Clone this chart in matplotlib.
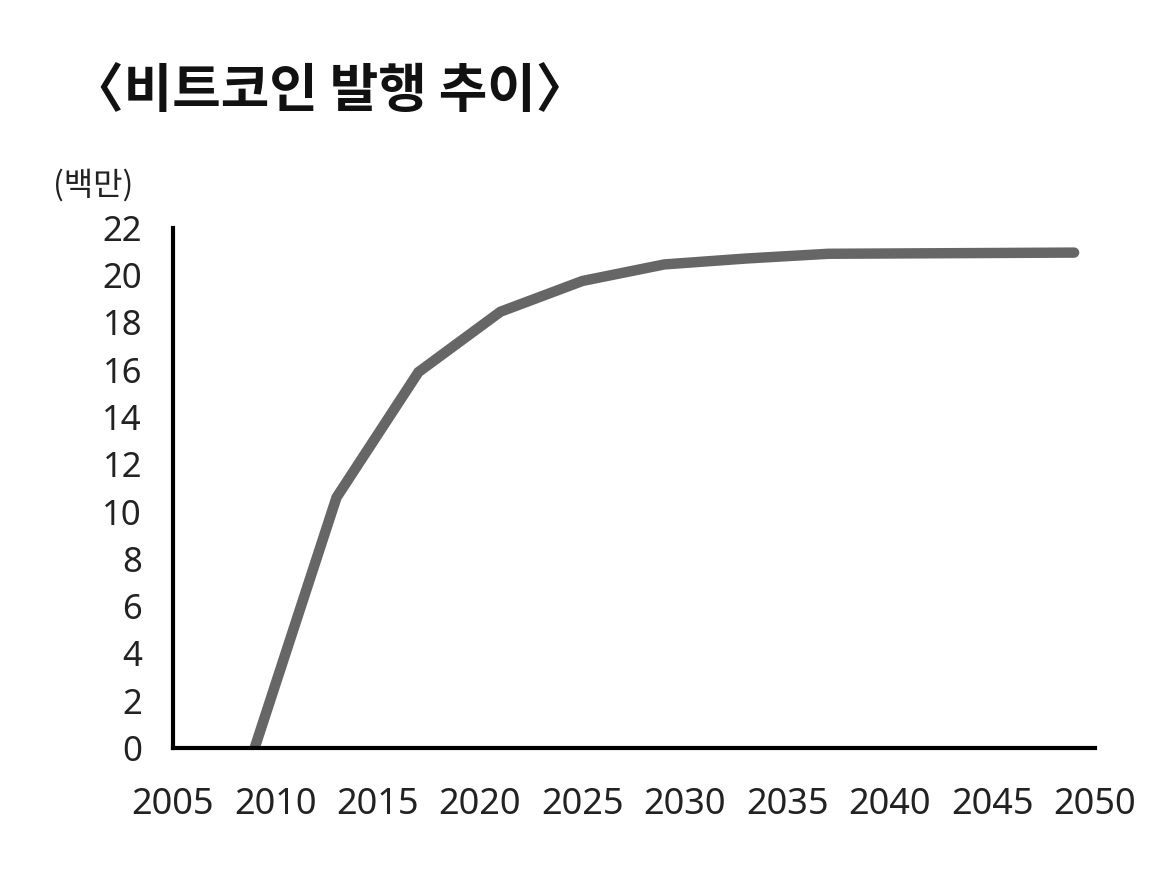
import matplotlib.pyplot as plt

plt.rcParams['font.family'] = ['Noto Sans CJK KR', 'DejaVu Sans']

# 비트코인 누적 발행량 (백만 개)
years = [2009, 2013, 2017, 2021, 2025, 2029, 2033, 2037, 2049]
supply = [0, 10.6, 15.9, 18.45, 19.75, 20.45, 20.7, 20.9, 20.95]

x_ticks = [2005, 2010, 2015, 2020, 2025, 2030, 2035, 2040, 2045, 2050]
y_ticks = list(range(0, 23, 2))

fig = plt.figure(figsize=(11.51, 8.76), dpi=100)
ax = fig.add_axes([0.150, 0.146, 0.801, 0.594])

ax.plot(years, supply, color='#666666', linewidth=7.5, solid_joinstyle='miter', solid_capstyle='round')

ax.set_xlim(2005, 2050)
ax.set_ylim(0, 22)
ax.set_xticks(x_ticks)
ax.set_yticks(y_ticks)
ax.tick_params(axis='x', length=0, pad=28, labelsize=26, labelcolor='#222222')
ax.tick_params(axis='y', length=0, pad=22, labelsize=25, labelcolor='#222222')
for lbl in ax.get_xticklabels() + ax.get_yticklabels():
    lbl.set_family(['Noto Sans', 'DejaVu Sans'])

for side in ['top', 'right']:
    ax.spines[side].set_visible(False)
for side in ['left', 'bottom']:
    ax.spines[side].set_linewidth(3)
    ax.spines[side].set_color('black')

fig.text(0.062, 0.895, '〈비트코인 발행 추이〉', fontsize=38, fontweight='bold',
         color='#111111', ha='left', va='center')
fig.text(0.046, 0.788, '(백만)', fontsize=23, color='#222222', ha='left', va='center')

fig.savefig('out.png', dpi=100, facecolor='white')
